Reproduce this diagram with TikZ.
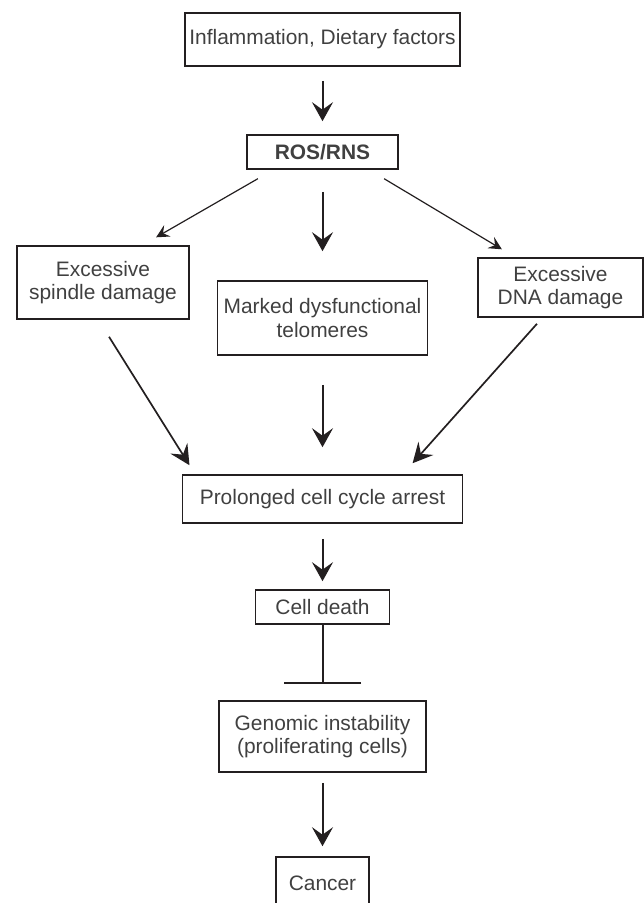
\documentclass[tikz,border=0pt]{standalone}
\usepackage{fontspec}
\setmainfont{Liberation Sans}
\usetikzlibrary{arrows.meta}
\definecolor{boxline}{HTML}{231F20}
\definecolor{boxtext}{HTML}{404040}

\begin{document}
\begin{tikzpicture}[x=1bp, y=-1bp, thick,
                    main node/.style={draw=boxline, line width=1.6bp, text=boxtext, align=center,
                                      inner sep=0pt, font=\fontsize{21}{23.5}\selectfont},
                    big arrow/.style={draw=boxline, line width=2bp, -{Stealth[length=19bp, width=21bp, inset=7.5bp]}},
                    thin arrow/.style={draw=boxline, line width=1.2bp, -{Stealth[length=13bp, width=13bp, inset=5bp]}},
                    side arrow/.style={draw=boxline, line width=1.7bp, -{Stealth[length=20bp, width=20bp, inset=7.5bp]}},
                    block/.style={draw=boxline, line width=2bp, -{Bar[width=77bp]}}]
    \useasboundingbox (0,0) rectangle (644,903);
    \clip (0,0) rectangle (644,903);

    \node[main node, minimum width=275bp, minimum height=53bp] (1) at (322.5,39.5) {Inflammation, Dietary factors};
    \node[main node, minimum width=151bp, minimum height=34bp] (2) [below of=1, node distance=112.5bp] {\textbf{ROS/RNS}};
    \node[main node, minimum width=172bp, minimum height=73bp] (3) at (103,282.5) {Excessive\\spindle damage};
    \node[main node, minimum width=210bp, minimum height=74bp] (4) [below of=2, node distance=166bp] {Marked dysfunctional\\telomeres};
    \node[main node, minimum width=165bp, minimum height=59bp] (5) at (560.5,287.5) {Excessive\\DNA damage};
    \node[main node, minimum width=280bp, minimum height=48bp] (6) [below of=4, node distance=181bp] {Prolonged cell cycle arrest};
    \node[main node, minimum width=134bp, minimum height=34bp] (7) [below of=6, node distance=108bp] {Cell death};
    \node[main node, minimum width=207bp, minimum height=71bp] (8) [below of=7, node distance=129.5bp] {Genomic instability\\(proliferating cells)};
    \node[main node, minimum width=93bp, minimum height=52bp] (9) [below of=8, node distance=146.5bp] {Cancer};

    \path
        (1) edge[big arrow, shorten <=14bp, shorten >=13bp] (2)
        (2) edge[big arrow, shorten <=22bp, shorten >=29bp] (4)
        ([xshift=-49.2bp]2.south) edge[thin arrow, shorten <=17.8bp, shorten >=15.8bp] ([xshift=39.4bp]3.north)
        ([xshift=46.8bp]2.south) edge[thin arrow, shorten <=17.3bp, shorten >=15.4bp] ([xshift=-45.4bp]5.north)
        ([xshift=-4.6bp]3.south) edge[side arrow, shorten <=20bp, shorten >=10.6bp] ([xshift=-127.4bp]6.north)
        (4) edge[big arrow, shorten <=29bp, shorten >=27bp] (6)
        ([xshift=-18.2bp]5.south) edge[side arrow, shorten <=8bp, shorten >=14.7bp] ([xshift=80.3bp]6.north)
        (6) edge[big arrow, shorten <=15bp, shorten >=8bp] (7)
        (7) edge[block, shorten >=16bp] (8)
        (8) edge[big arrow, shorten <=10bp, shorten >=10bp] (9);
\end{tikzpicture}
\end{document}
